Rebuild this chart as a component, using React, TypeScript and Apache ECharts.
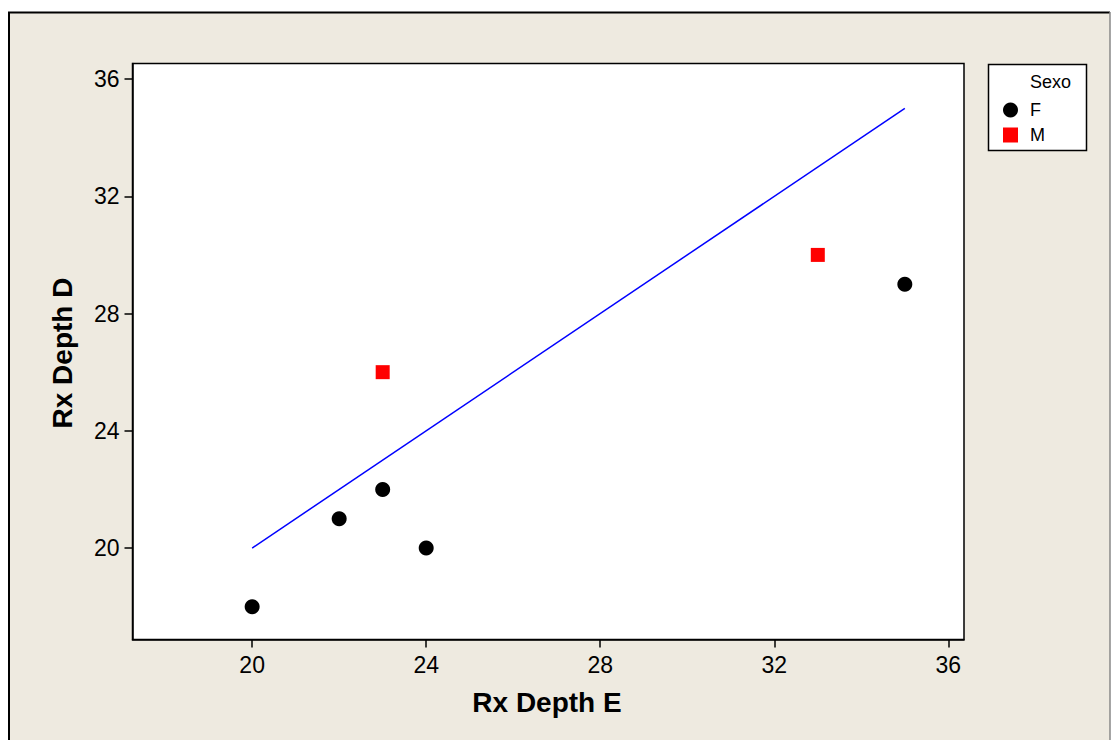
import React, { useEffect, useRef } from "react";
import * as echarts from "echarts";

const femaleData: [number, number][] = [
  [20, 18],
  [22, 21],
  [23, 22],
  [24, 20],
  [35, 29],
];
const maleData: [number, number][] = [
  [23, 26],
  [33, 30],
];
const fitLine: [number, number][] = [
  [20, 20],
  [35, 35],
];
const xTicks = [20, 24, 28, 32, 36];
const yTicks = [20, 24, 28, 32, 36];
const legendTitle = "Sexo";
const xTitle = "Rx Depth E";
const yTitle = "Rx Depth D";

const FONT = "'Liberation Sans', Arial, sans-serif";
const BEIGE = "#EEEAE0";

export default function App() {
  const ref = useRef<HTMLDivElement>(null);
  useEffect(() => {
    if (!ref.current) return;
    const chart = echarts.init(ref.current, undefined, { renderer: "svg" });
    chart.setOption({
      animation: false,
      backgroundColor: "#ffffff",
      textStyle: { fontFamily: FONT },
      graphic: [
        {
          type: "rect",
          z: -10,
          silent: true,
          shape: { x: 8, y: 12, width: 1102, height: 740 },
          style: { fill: BEIGE, stroke: null },
        },
        {
          type: "line",
          z: -9,
          shape: { x1: 8, y1: 12.5, x2: 1110, y2: 12.5 },
          style: { stroke: "#000", lineWidth: 2 },
        },
        {
          type: "line",
          z: -9,
          shape: { x1: 9, y1: 12, x2: 9, y2: 740 },
          style: { stroke: "#000", lineWidth: 2 },
        },
        {
          type: "line",
          z: -9,
          shape: { x1: 1110, y1: 12, x2: 1110, y2: 740 },
          style: { stroke: "#888", lineWidth: 1.5 },
        },
        {
          type: "rect",
          shape: { x: 988.5, y: 64.5, width: 98, height: 86 },
          style: { fill: "#fff", stroke: "#000", lineWidth: 1.5 },
          z: 0,
        },
        {
          type: "text",
          x: 1030,
          y: 82,
          z: 5,
          style: {
            text: legendTitle,
            font: `18px ${FONT}`,
            fill: "#000",
            verticalAlign: "middle",
          },
        },
        {
          type: "text",
          x: 547,
          y: 702,
          style: {
            text: xTitle,
            font: `bold 28px ${FONT}`,
            fill: "#000",
            align: "center",
            verticalAlign: "middle",
          },
        },
        {
          type: "text",
          x: 62,
          y: 353,
          rotation: Math.PI / 2,
          style: {
            text: yTitle,
            font: `bold 28px ${FONT}`,
            fill: "#000",
            align: "center",
            verticalAlign: "middle",
          },
        },
      ],
      legend: {
        left: 998,
        top: 96,
        orient: "vertical",
        itemWidth: 15,
        itemHeight: 15,
        itemGap: 7,
        padding: 5,
        z: 10,
        data: [
          { name: "F", icon: "circle" },
          { name: "M", icon: "rect" },
        ],
        textStyle: {
          fontFamily: FONT,
          fontSize: 18,
          color: "#000",
          padding: [0, 0, 0, 7],
        },
      },
      grid: {
        left: 132.5,
        top: 63.5,
        width: 831.5,
        height: 576,
        show: true,
        backgroundColor: "#fff",
        borderColor: "#000",
        borderWidth: 1.5,
      },
      xAxis: {
        type: "value",
        min: 17.25,
        max: 36.36,
        splitLine: { show: false },
        axisLine: { show: true, lineStyle: { color: "#000", width: 1.5 } },
        axisTick: {
          show: true,
          length: 8,
          inside: false,
          customValues: xTicks,
          lineStyle: { color: "#000", width: 1.5 },
        },
        axisLabel: {
          customValues: xTicks,
          fontSize: 23,
          color: "#000",
          margin: 14,
          fontFamily: FONT,
        },
      },
      yAxis: {
        type: "value",
        min: 16.88,
        max: 36.53,
        splitLine: { show: false },
        axisLine: { show: true, lineStyle: { color: "#000", width: 1.5 } },
        axisTick: {
          show: true,
          length: 8,
          inside: false,
          customValues: yTicks,
          lineStyle: { color: "#000", width: 1.5 },
        },
        axisLabel: {
          customValues: yTicks,
          fontSize: 23,
          color: "#000",
          margin: 13,
          fontFamily: FONT,
        },
      },
      series: [
        {
          name: "Fit",
          type: "line",
          data: fitLine,
          symbol: "none",
          lineStyle: { color: "#0000ff", width: 1.5 },
          z: 2,
        },
        {
          name: "F",
          type: "scatter",
          data: femaleData,
          symbol: "circle",
          symbolSize: 15,
          itemStyle: { color: "#000", opacity: 1 },
          z: 3,
        },
        {
          name: "M",
          type: "scatter",
          data: maleData,
          symbol: "rect",
          symbolSize: 14,
          itemStyle: { color: "#ff0000", opacity: 1 },
          z: 3,
        },
      ],
    });
    return () => chart.dispose();
  }, []);
  return (
    <div
      ref={ref}
      style={{ position: "absolute", left: 0, top: 0, width: 1111, height: 740 }}
    />
  );
}
